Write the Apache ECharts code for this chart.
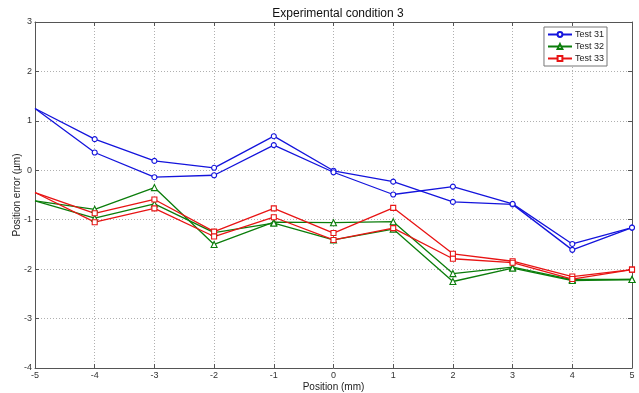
<!DOCTYPE html>
<html>
<head>
<meta charset="utf-8">
<script src="https://cdn.jsdelivr.net/npm/echarts@6/dist/echarts.min.js"></script>
<style>
	html, body { margin: 0; padding: 0; background: #fff; }
	#chart { width: 639px; height: 393px; }
</style>
</head>
<body>
<div id="chart"></div>
<script>
// positions (mm)
const positions = [-5, -4, -3, -2, -1, 0, 1, 2, 3, 4, 5]
// two passes per test
const test31a = [1.25, 0.63, 0.19, 0.05, 0.69, -0.01, -0.23, -0.64, -0.69, -1.61, -1.16]
const test31b = [1.25, 0.36, -0.14, -0.10, 0.51, -0.04, -0.49, -0.33, -0.68, -1.49, -1.16]
const test32a = [-0.62, -0.79, -0.35, -1.50, -1.05, -1.06, -1.04, -2.09, -1.96, -2.21, -2.21]
const test32b = [-0.62, -0.97, -0.68, -1.26, -1.07, -1.41, -1.19, -2.25, -1.98, -2.23, -2.21]
const test33a = [-0.45, -0.87, -0.59, -1.24, -0.77, -1.27, -0.76, -1.69, -1.84, -2.15, -2.01]
const test33b = [-0.45, -1.05, -0.77, -1.34, -0.95, -1.41, -1.17, -1.79, -1.87, -2.20, -2.01]

const font = 'Liberation Sans, Arial, sans-serif'

// first point sits on the frame, no marker drawn there
const pair = vals => vals.map((v, i) => (i === 0 ? { value: [positions[i], v], symbol: 'none' } : [positions[i], v]))

const makeSeries = (name, vals, color, symbol) => ({
	name: name,
	type: 'line',
	data: pair(vals),
	symbol: symbol,
	symbolSize: symbol === 'triangle' ? 6 : 5,
	showSymbol: true,
	lineStyle: { color: color, width: 1.3 },
	itemStyle: { color: '#fff', borderColor: color, borderWidth: 1.1 },
	emphasis: { disabled: true },
	animation: false
})

const series = [
	makeSeries('Test 31', test31a, '#1414dc', 'circle'),
	makeSeries('Test 31', test31b, '#1414dc', 'circle'),
	makeSeries('Test 32', test32a, '#0b7d0b', 'triangle'),
	makeSeries('Test 32', test32b, '#0b7d0b', 'triangle'),
	makeSeries('Test 33', test33a, '#e81414', 'rect'),
	makeSeries('Test 33', test33b, '#e81414', 'rect')
]

const gridLine = { show: true, lineStyle: { color: '#b0b0b0', type: [1, 2], width: 1 } }
const frame = { show: true, onZero: false, lineStyle: { color: '#555', width: 1 } }
const tick = { show: true, inside: true, length: 4, lineStyle: { color: '#555' } }
const label = { color: '#333', fontSize: 9, fontFamily: font }

const option = {
	animation: false,
	backgroundColor: '#fff',
	title: {
		text: 'Experimental condition 3',
		left: 333,
		textAlign: 'center',
		top: 3,
		textStyle: { fontSize: 12, fontWeight: 'normal', color: '#111', fontFamily: font }
	},
	legend: {
		data: ['Test 31', 'Test 32', 'Test 33'],
		orient: 'vertical',
		right: 32,
		top: 27,
		itemWidth: 24,
		itemHeight: 6,
		itemGap: 3,
		padding: [3, 3, 3, 3],
		borderColor: '#777',
		borderWidth: 1,
		backgroundColor: '#fff',
		textStyle: { fontSize: 9, color: '#222', fontFamily: font, padding: [0, 0, 0, -2] }
	},
	grid: { left: 35, right: 7, top: 22, bottom: 25, outerBoundsMode: 'none', containLabel: false },
	xAxis: [
		{
			type: 'value',
			min: -5,
			max: 5,
			interval: 1,
			name: 'Position (mm)',
			nameLocation: 'middle',
			nameGap: 14,
			nameMoveOverlap: false,
			nameTextStyle: { fontSize: 10, color: '#222', fontFamily: font },
			axisLine: frame,
			axisTick: tick,
			axisLabel: Object.assign({ margin: 3 }, label),
			splitLine: gridLine
		},
		{
			type: 'value',
			position: 'top',
			min: -5,
			max: 5,
			interval: 1,
			axisLine: frame,
			axisTick: tick,
			axisLabel: { show: false },
			splitLine: { show: false }
		}
	],
	yAxis: [
		{
			type: 'value',
			min: -4,
			max: 3,
			interval: 1,
			name: 'Position error (µm)',
			nameLocation: 'middle',
			nameGap: 13,
			nameMoveOverlap: false,
			nameTextStyle: { fontSize: 10, color: '#222', fontFamily: font },
			axisLine: frame,
			axisTick: tick,
			axisLabel: Object.assign({ margin: 3 }, label),
			splitLine: gridLine
		},
		{
			type: 'value',
			position: 'right',
			min: -4,
			max: 3,
			interval: 1,
			axisLine: frame,
			axisTick: tick,
			axisLabel: { show: false },
			splitLine: { show: false }
		}
	],
	series: series
}

echarts.init(document.getElementById('chart'), null, { renderer: 'canvas' }).setOption(option)
</script>
</body>
</html>
